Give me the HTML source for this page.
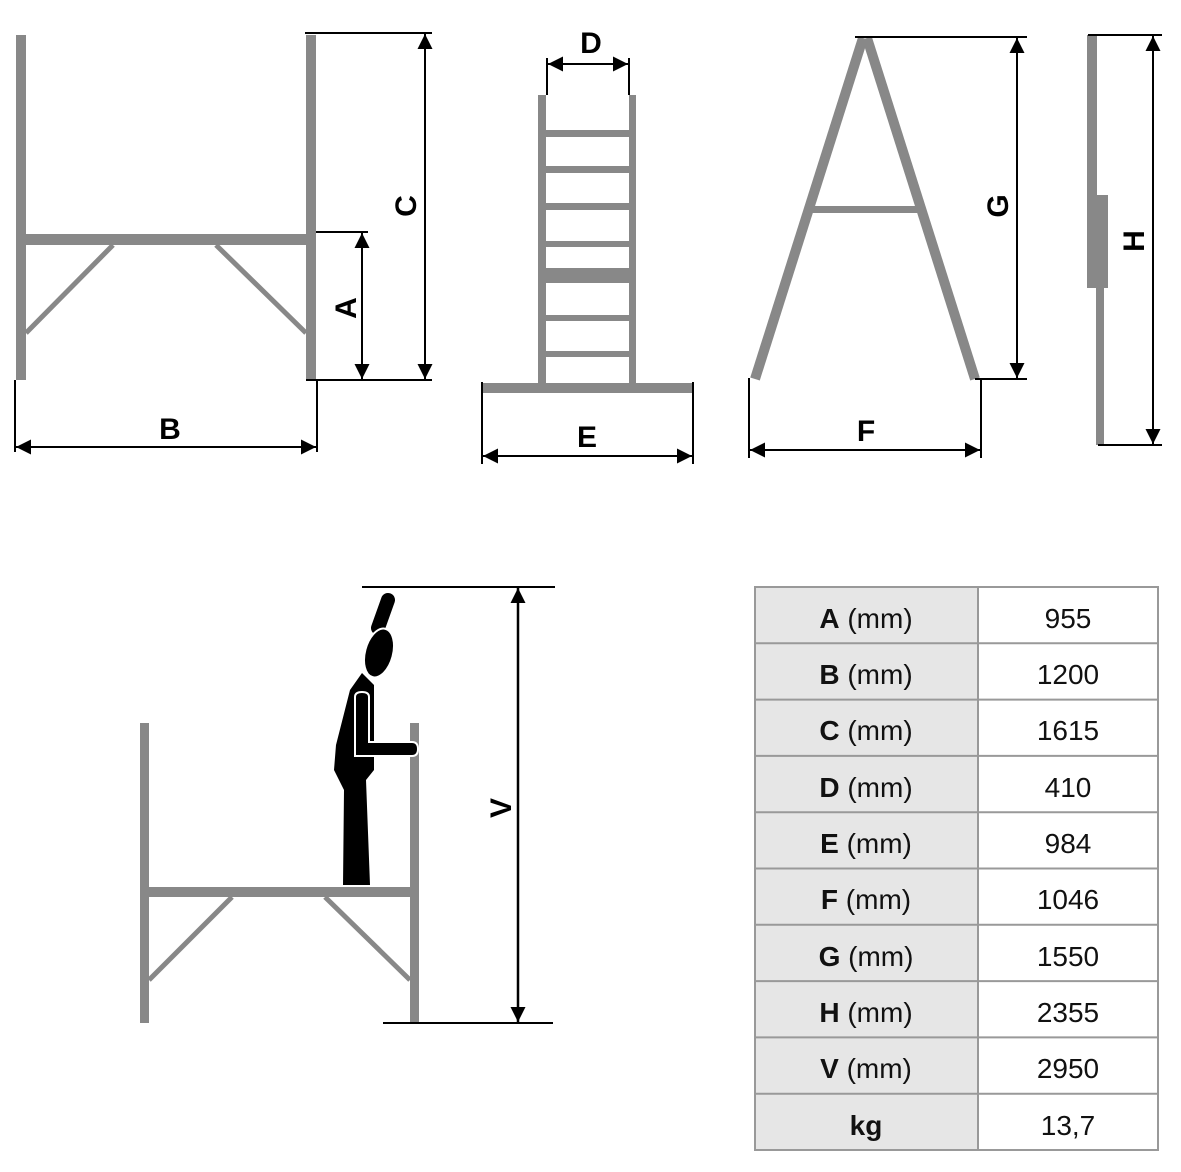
<!DOCTYPE html>
<html><head><meta charset="utf-8"><style>
html,body{margin:0;padding:0;background:#fff}
svg{display:block}
.t{font-family:"Liberation Sans",sans-serif;font-weight:bold;font-size:30px;fill:#000}
.tb{font-family:"Liberation Sans",sans-serif;font-size:28px;fill:#111}
</style></head><body>
<svg width="1181" height="1172" viewBox="0 0 1181 1172" xmlns="http://www.w3.org/2000/svg">
<defs>
<marker id="ar" viewBox="0 0 10 10" refX="10" refY="5" markerWidth="17" markerHeight="15" markerUnits="userSpaceOnUse" orient="auto-start-reverse"><path d="M0,0 L10,5 L0,10 z" fill="#000"/></marker>
</defs>
<g fill="#888">
<rect x="16" y="35" width="10" height="345"/>
<rect x="306" y="35" width="10" height="345"/>
<rect x="26" y="234" width="280" height="11"/>
</g>
<g stroke="#888" stroke-width="5">
<line x1="113" y1="245" x2="26" y2="333"/>
<line x1="216" y1="245" x2="306" y2="333"/>
</g>
<g stroke="#000" stroke-width="2" fill="none">
<line x1="305" y1="33" x2="432" y2="33"/>
<line x1="316" y1="232" x2="368" y2="232"/>
<line x1="306" y1="380" x2="432" y2="380"/>
<line x1="425" y1="34" x2="425" y2="379" marker-start="url(#ar)" marker-end="url(#ar)"/>
<line x1="362" y1="233" x2="362" y2="379" marker-start="url(#ar)" marker-end="url(#ar)"/>
<line x1="15" y1="380" x2="15" y2="452"/>
<line x1="317" y1="380" x2="317" y2="452"/>
<line x1="16" y1="447" x2="316" y2="447" marker-start="url(#ar)" marker-end="url(#ar)"/>
</g>
<text class="t" x="170" y="439" text-anchor="middle">B</text>
<text class="t" transform="translate(356,308) rotate(-90)" text-anchor="middle">A</text>
<text class="t" transform="translate(416,206) rotate(-90)" text-anchor="middle">C</text>

<g fill="#888">
<rect x="538" y="95" width="8" height="290"/>
<rect x="629" y="95" width="7" height="290"/>
<rect x="546" y="130" width="83" height="7"/>
<rect x="546" y="166" width="83" height="7"/>
<rect x="546" y="203" width="83" height="7"/>
<rect x="546" y="241" width="83" height="6"/>
<rect x="546" y="268" width="83" height="15"/>
<rect x="546" y="315" width="83" height="6"/>
<rect x="546" y="351" width="83" height="6"/>
<rect x="483" y="383" width="209" height="10"/>
</g>
<g stroke="#000" stroke-width="2" fill="none">
<line x1="547" y1="58" x2="547" y2="95"/>
<line x1="629" y1="58" x2="629" y2="95"/>
<line x1="548" y1="64" x2="628" y2="64" marker-start="url(#ar)" marker-end="url(#ar)"/>
<line x1="482" y1="382" x2="482" y2="464"/>
<line x1="693" y1="382" x2="693" y2="464"/>
<line x1="483" y1="456" x2="692" y2="456" marker-start="url(#ar)" marker-end="url(#ar)"/>
</g>
<text class="t" x="591" y="53" text-anchor="middle">D</text>
<text class="t" x="587" y="447" text-anchor="middle">E</text>

<g stroke="#888" stroke-width="10">
<line x1="863" y1="38" x2="755" y2="379"/>
<line x1="867" y1="38" x2="975" y2="379"/>
</g>
<rect x="812" y="206" width="106" height="7" fill="#888"/>
<g stroke="#000" stroke-width="2" fill="none">
<line x1="855" y1="37" x2="1027" y2="37"/>
<line x1="975" y1="379" x2="1027" y2="379"/>
<line x1="1017" y1="38" x2="1017" y2="378" marker-start="url(#ar)" marker-end="url(#ar)"/>
<line x1="749" y1="378" x2="749" y2="458"/>
<line x1="981" y1="378" x2="981" y2="458"/>
<line x1="750" y1="450" x2="980" y2="450" marker-start="url(#ar)" marker-end="url(#ar)"/>
</g>
<text class="t" transform="translate(1008,206) rotate(-90)" text-anchor="middle">G</text>
<text class="t" x="866" y="441" text-anchor="middle">F</text>

<g fill="#888">
<rect x="1087" y="35" width="10" height="250"/>
<rect x="1087" y="195" width="21" height="93"/>
<rect x="1096" y="285" width="8" height="160"/>
</g>
<g stroke="#000" stroke-width="2" fill="none">
<line x1="1088" y1="35" x2="1162" y2="35"/>
<line x1="1098" y1="445" x2="1162" y2="445"/>
<line x1="1153" y1="36" x2="1153" y2="444" marker-start="url(#ar)" marker-end="url(#ar)"/>
</g>
<text class="t" transform="translate(1144,241) rotate(-90)" text-anchor="middle">H</text>

<g fill="#888">
<rect x="140" y="723" width="9" height="300"/>
<rect x="410" y="723" width="9" height="300"/>
<rect x="149" y="887" width="261" height="10"/>
</g>
<g stroke="#888" stroke-width="5">
<line x1="232" y1="897" x2="149" y2="980"/>
<line x1="325" y1="897" x2="410" y2="980"/>
</g>
<g fill="#000">
<line x1="388" y1="600" x2="378" y2="628" stroke="#000" stroke-width="14" stroke-linecap="round"/>
<ellipse cx="379" cy="653" rx="14" ry="25" transform="rotate(15 379 653)" stroke="#fff" stroke-width="2"/>
<path d="M362 673 L374 685 L374 770 L366 780 L370 885 L343 885 L344 790 L334 770 L336 745 L350 690 Z"/>
<path d="M355 697 Q355 692 362 692 Q369 692 369 697 L369 742 L412 742 Q418 742 418 749 Q418 756 412 756 L355 756 Z" stroke="#fff" stroke-width="2"/>
</g>
<g stroke="#000" stroke-width="2" fill="none">
<line x1="362" y1="587" x2="555" y2="587"/>
<line x1="383" y1="1023" x2="553" y2="1023"/>
<line x1="518" y1="588" x2="518" y2="1022" marker-start="url(#ar)" marker-end="url(#ar)" stroke-width="2.5"/>
</g>
<text class="t" transform="translate(511,808) rotate(-90)" text-anchor="middle">V</text>

<g>
<rect x="755" y="587" width="223" height="563" fill="#e6e6e6"/>
<rect x="978" y="587" width="180" height="563" fill="#fff"/>
<g stroke="#999" stroke-width="2" fill="none">
<rect x="755" y="587" width="403" height="563"/>
<line x1="978" y1="587" x2="978" y2="1150"/>
<line x1="755" y1="643.3" x2="1158" y2="643.3"/>
<line x1="755" y1="699.6" x2="1158" y2="699.6"/>
<line x1="755" y1="755.9" x2="1158" y2="755.9"/>
<line x1="755" y1="812.2" x2="1158" y2="812.2"/>
<line x1="755" y1="868.5" x2="1158" y2="868.5"/>
<line x1="755" y1="924.8" x2="1158" y2="924.8"/>
<line x1="755" y1="981.1" x2="1158" y2="981.1"/>
<line x1="755" y1="1037.4" x2="1158" y2="1037.4"/>
<line x1="755" y1="1093.7" x2="1158" y2="1093.7"/>
</g>
<g class="tb" text-anchor="middle">
<text x="866" y="628"><tspan font-weight="bold">A</tspan> (mm)</text>
<text x="866" y="684"><tspan font-weight="bold">B</tspan> (mm)</text>
<text x="866" y="740"><tspan font-weight="bold">C</tspan> (mm)</text>
<text x="866" y="797"><tspan font-weight="bold">D</tspan> (mm)</text>
<text x="866" y="853"><tspan font-weight="bold">E</tspan> (mm)</text>
<text x="866" y="909"><tspan font-weight="bold">F</tspan> (mm)</text>
<text x="866" y="966"><tspan font-weight="bold">G</tspan> (mm)</text>
<text x="866" y="1022"><tspan font-weight="bold">H</tspan> (mm)</text>
<text x="866" y="1078"><tspan font-weight="bold">V</tspan> (mm)</text>
<text x="866" y="1135" font-weight="bold">kg</text>
</g>
<g class="tb" text-anchor="middle" font-size="25">
<text x="1068" y="628">955</text>
<text x="1068" y="684">1200</text>
<text x="1068" y="740">1615</text>
<text x="1068" y="797">410</text>
<text x="1068" y="853">984</text>
<text x="1068" y="909">1046</text>
<text x="1068" y="966">1550</text>
<text x="1068" y="1022">2355</text>
<text x="1068" y="1078">2950</text>
<text x="1068" y="1135">13,7</text>
</g>
</g>
</svg>
</body></html>
